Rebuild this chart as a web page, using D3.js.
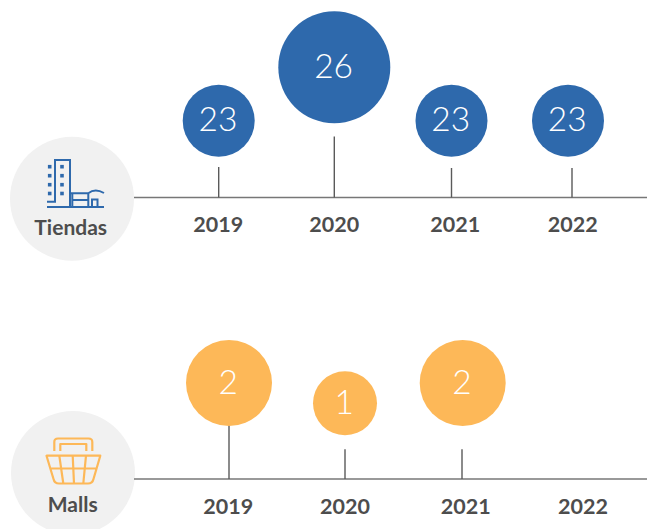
<!DOCTYPE html>
<html>
<head>
<meta charset="utf-8">
<style>
  html, body { margin: 0; padding: 0; background: #fff; overflow: hidden; }
  svg { display: block; font-family: Lato, sans-serif; }
</style>
<script src="https://cdn.jsdelivr.net/npm/d3@7"></script>
</head>
<body>
<svg id="chart" width="647" height="529"></svg>
<script>
//

const years = ['2019', '2020', '2021', '2022']
const tiendasValues = [23, 26, 23, 23]
const mallsValues = [2, 1, 2, null]

//

const width = 647
const blue = '#2e69ac'
const orange = '#fdb858'

const svg = d3.select('#chart')

const tiendas = {
  name: 'Tiendas',
  values: tiendasValues,
  color: blue,
  axisY: 197.5,
  badge: { x: 72, y: 198.7, labelX: 70.7, labelY: 235 },
  cx: d3.scaleOrdinal().domain(years).range([218.7, 334.3, 451.5, 568]),
  stemX: d3.scaleOrdinal().domain(years).range([218.7, 334.3, 451.5, 572]),
  stemTop: d3.scaleOrdinal().domain(years).range([167, 136.5, 168, 168]),
  labelX: d3.scaleOrdinal().domain(years).range([218.3, 334.3, 455.3, 572.7]),
  cy: d3.scaleLinear().domain([23, 26]).range([120.7, 67.3]),
  r: d3.scaleLinear().domain([23, 26]).range([36, 56])
}

const malls = {
  name: 'Malls',
  values: mallsValues,
  color: orange,
  axisY: 479,
  badge: { x: 73, y: 473, labelX: 72.7, labelY: 511.7 },
  cx: d3.scaleOrdinal().domain(years).range([229, 345, 462.7, 583]),
  stemX: d3.scaleOrdinal().domain(years).range([229, 345, 462, 583]),
  stemTop: d3.scaleOrdinal().domain(years).range([425, 449.3, 449.3, 449.3]),
  labelX: d3.scaleOrdinal().domain(years).range([228.3, 345, 465.7, 583]),
  cy: d3.scaleLinear().domain([1, 2]).range([403.3, 383]),
  r: d3.scaleLinear().domain([1, 2]).range([32, 43])
}

//

function drawPanel (panel) {
  const g = svg.append('g').attr('class', panel.name.toLowerCase())
  const rows = years
    .map((year, i) => ({ year, value: panel.values[i] }))
    .filter((d) => d.value !== null)

  g.append('circle')
    .attr('cx', panel.badge.x)
    .attr('cy', panel.badge.y)
    .attr('r', 62)
    .attr('fill', '#f1f1f1')

  g.append('text')
    .attr('x', panel.badge.labelX)
    .attr('y', panel.badge.labelY)
    .attr('text-anchor', 'middle')
    .attr('font-size', 21)
    .attr('font-weight', 700)
    .attr('fill', '#4d4d4d')
    .text(panel.name)

  g.append('line')
    .attr('x1', 134)
    .attr('x2', width)
    .attr('y1', panel.axisY)
    .attr('y2', panel.axisY)
    .attr('stroke', '#777')
    .attr('stroke-width', 1.5)

  const axis = d3.axisBottom(panel.labelX)
    .tickSize(0)
    .tickPadding(19.5)
    .offset(0)

  g.append('g')
    .attr('transform', `translate(0, ${panel.axisY})`)
    .call(axis)
    .call((a) => a.select('.domain').remove())
    .call((a) => a.selectAll('text')
      .attr('font-family', 'Lato, sans-serif')
      .attr('font-size', 21.5)
      .attr('font-weight', 700)
      .attr('fill', '#4d4d4d'))

  g.selectAll('.stem')
    .data(rows)
    .join('line')
    .attr('class', 'stem')
    .attr('x1', (d) => panel.stemX(d.year))
    .attr('x2', (d) => panel.stemX(d.year))
    .attr('y1', (d) => panel.stemTop(d.year))
    .attr('y2', panel.axisY)
    .attr('stroke', '#5a5a5a')
    .attr('stroke-width', 1.4)

  g.selectAll('.bubble')
    .data(rows)
    .join('circle')
    .attr('class', 'bubble')
    .attr('cx', (d) => panel.cx(d.year))
    .attr('cy', (d) => panel.cy(d.value))
    .attr('r', (d) => panel.r(d.value))
    .attr('fill', panel.color)

  g.selectAll('.value')
    .data(rows)
    .join('text')
    .attr('class', 'value')
    .attr('x', (d) => panel.cx(d.year) - 0.7)
    .attr('y', (d) => panel.cy(d.value) + 10.5)
    .attr('text-anchor', 'middle')
    .attr('font-size', 33.5)
    .attr('font-weight', 300)
    .attr('fill', '#fff')
    .text((d) => d.value)
}

drawPanel(tiendas)
drawPanel(malls)

// icons

const building = svg.append('g')
  .attr('fill', 'none')
  .attr('stroke', blue)
  .attr('stroke-width', 2)

building.append('path')
  .attr('d', 'M47 201.7H55V160H70V207M47 207H104M70 193.3H88.3M72.3 193.3V207M72.3 200H88.3M88.3 193.3V207M88.3 193.3Q95 188 104 193M92 207V199.5H97.5V207')

building.selectAll('rect')
  .data(d3.cross([49.7, 62], [166.7, 175.7, 184.7, 193.5]))
  .join('rect')
  .attr('x', (d) => d[0] - 1.8)
  .attr('y', (d) => d[1] - 1.8)
  .attr('width', 3.6)
  .attr('height', 3.6)
  .attr('fill', blue)
  .attr('stroke', 'none')

svg.append('path')
  .attr('fill', 'none')
  .attr('stroke', orange)
  .attr('stroke-width', 2.2)
  .attr('stroke-linejoin', 'round')
  .attr('d', 'M46.5 455.7H100.3L93.5 479Q92.5 483.5 88 483.5H59Q54.5 483.5 53.5 479ZM59.3 455.7L63.3 483.5M72.7 455.7L74 483.5M86 455.7L83.3 483.5M49.5 468.5H97M54.3 451V442Q54.3 438.5 58 438.5H88.5Q92.3 438.5 92.3 442V451M60.3 451V444H86.3V451')
</script>
</body>
</html>
